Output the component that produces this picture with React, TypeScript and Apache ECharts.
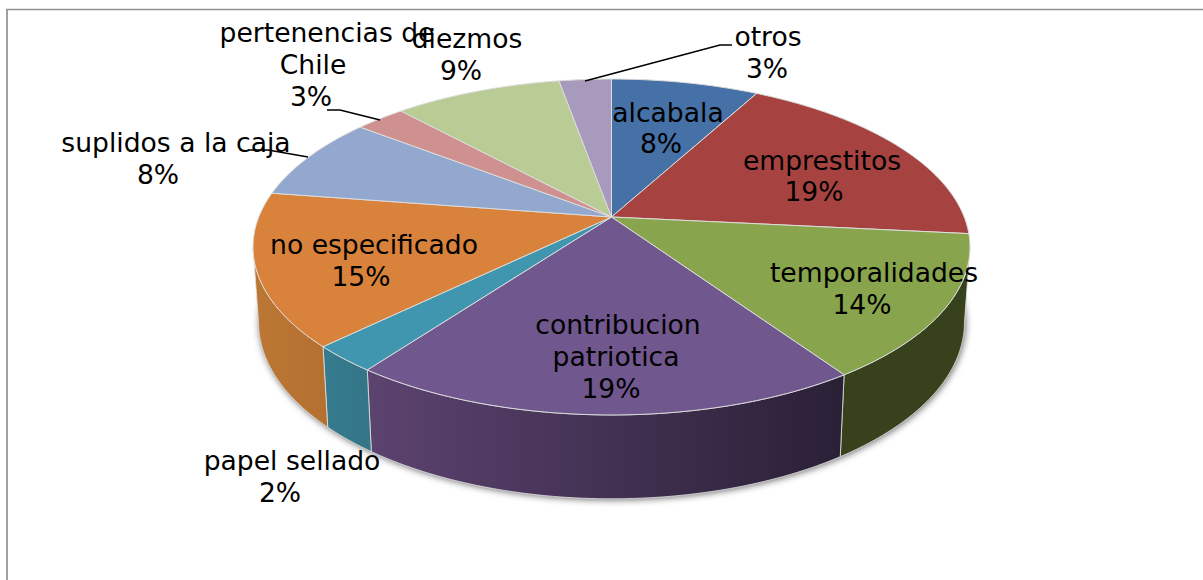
import React, { useEffect, useRef } from "react";
import * as echarts from "echarts";

const categories = ["alcabala", "emprestitos", "temporalidades", "contribucion patriotica", "papel sellado", "no especificado", "suplidos a la caja", "pertenencias de Chile", "diezmos", "otros"];
const shares = [7.9, 18.7, 13.9, 19.6, 2.6, 14.7, 8.1, 2.7, 9.0, 2.8];
const percentLabels = ["8%", "19%", "14%", "19%", "2%", "15%", "8%", "3%", "9%", "3%"];
const topColors = ["#4571A6", "#A64341", "#88A44D", "#70578E", "#4096AE", "#D9823C", "#92A8CE", "#CF9190", "#B9CC95", "#A89ABC"];
const wallLeft = ["#355780", "#7E3331", "#37421C", "#5C4370", "#367B8F", "#BC7735", "#6F80A0", "#9E6F6E", "#8C9C72", "#80758F"];
const wallRight = ["#355780", "#7E3331", "#37421C", "#2A2036", "#347587", "#B4702F", "#6F80A0", "#9E6F6E", "#8C9C72", "#80758F"];

// label line layouts (one entry per category: text and centre of each line)
const labelLines = [
  [["alcabala", 668, 112]],
  [["emprestitos", 822, 160]],
  [["temporalidades", 874, 272]],
  [["contribucion", 618, 324], ["patriotica", 616, 356]],
  [["papel sellado", 292, 460]],
  [["no especificado", 374, 244]],
  [["suplidos a la caja", 176, 142]],
  [["pertenencias de", 327, 32], ["Chile", 313, 64]],
  [["diezmos", 467, 38]],
  [["otros", 768, 36]],
];
const percentPos = [[661, 143], [814, 191], [862, 304], [611, 388], [280, 492], [361, 276], [158, 174], [311, 96], [461, 70], [767, 68]];
const leaders = [
  [[585, 81], [720, 45], [732, 45]],
  [[380, 120], [340, 110], [327, 110]],
  [[308, 157], [268, 150], [248, 150]],
];

const CX = 611.5;
const TOP = { cy: 217, a: 352.7, b: 162.6, k: 0.1786 };
const BOT = { cy: 291, a: 347.4, b: 171, k: 0.177 };
const total = shares.reduce((s, v) => s + v, 0);
const cum = shares.reduce<number[]>((acc, v) => [...acc, acc[acc.length - 1] + v], [0]);
const ang = (i: number) => (cum[i] / total) * Math.PI * 2;

function project(p: typeof TOP, th: number): [number, number] {
  const X = Math.sin(th);
  const Y = -Math.cos(th);
  const w = 1 - p.k * Y;
  return [CX + (p.a * X) / w, p.cy + (p.b * Y) / w];
}
function arc(p: typeof TOP, a0: number, a1: number): [number, number][] {
  const n = Math.max(2, Math.ceil(Math.abs(a1 - a0) / 0.01));
  const pts: [number, number][] = [];
  for (let j = 0; j <= n; j++) pts.push(project(p, a0 + ((a1 - a0) * j) / n));
  return pts;
}
const VIS0 = (100.3 * Math.PI) / 180;
const VIS1 = (259.7 * Math.PI) / 180;

export default function App() {
  const ref = useRef<HTMLDivElement>(null);
  useEffect(() => {
    document.body.style.margin = "0";
    const chart = echarts.init(ref.current!, undefined, { renderer: "svg" });
    const font = '26.6px "DejaVu Sans"';
    const textEls: any[] = [];
    categories.forEach((_, i) => {
      labelLines[i].forEach((l: any) => {
        textEls.push({ type: "text", x: l[1], y: l[2], z: 20, style: { text: l[0], font, fill: "#000", align: "center", verticalAlign: "middle" } });
      });
      textEls.push({ type: "text", x: percentPos[i][0], y: percentPos[i][1], z: 20, style: { text: percentLabels[i], font, fill: "#000", align: "center", verticalAlign: "middle" } });
    });
    const lineEls = leaders.map((pts) => ({ type: "polyline", z: 21, shape: { points: pts }, style: { stroke: "#000", lineWidth: 1.5, fill: null } }));
    const data = shares.map((v, i) => ({ name: categories[i], value: v }));
    chart.setOption({
      animation: false,
      backgroundColor: "#fff",
      graphic: [
        { type: "polyline", z: 0, shape: { points: [[7, 580], [7, 9.5], [1203, 9.5]] }, style: { stroke: "#909090", lineWidth: 1.7, fill: null } },
        ...lineEls,
        ...textEls,
      ],
      series: [
        {
          type: "custom",
          coordinateSystem: "none",
          z: 1,
          silent: true,
          data: [{ name: "shadow", value: total }],
          renderItem: () => ({
            type: "polygon",
            shape: { points: arc(BOT, 0, Math.PI * 2) },
            style: { fill: "#777", shadowBlur: 7, shadowColor: "rgba(0,0,0,0.6)", shadowOffsetX: 1, shadowOffsetY: 1 },
          }),
        },
        {
          type: "custom",
          coordinateSystem: "none",
          z: 2,
          silent: true,
          data,
          renderItem: (params: any) => {
            const i = params.dataIndex;
            const a0 = Math.max(ang(i), VIS0);
            const a1 = Math.min(ang(i + 1), VIS1);
            if (a1 <= a0) return { type: "group", children: [] };
            const up = arc(TOP, a0, a1);
            const down = arc(BOT, a0, a1).reverse();
            return {
              type: "polygon",
              shape: { points: [...up, ...down] },
              style: {
                fill: { type: "linear", x: 0, y: 0, x2: 1, y2: 0, colorStops: [{ offset: 0, color: wallLeft[i] }, { offset: 1, color: wallRight[i] }] },
                stroke: "#E4E4E4",
                lineWidth: 0.8,
              },
            };
          },
        },
        {
          type: "custom",
          coordinateSystem: "none",
          z: 3,
          silent: true,
          data,
          renderItem: (params: any) => {
            const i = params.dataIndex;
            const pts = [[CX, TOP.cy], ...arc(TOP, ang(i), ang(i + 1))];
            return {
              type: "polygon",
              shape: { points: pts },
              style: { fill: topColors[i], stroke: "#DDDDDD", lineWidth: 1 },
            };
          },
        },
      ],
    });
    return () => chart.dispose();
  }, []);
  return <div ref={ref} style={{ position: "absolute", left: 0, top: 0, width: 1203, height: 580 }} />;
}
